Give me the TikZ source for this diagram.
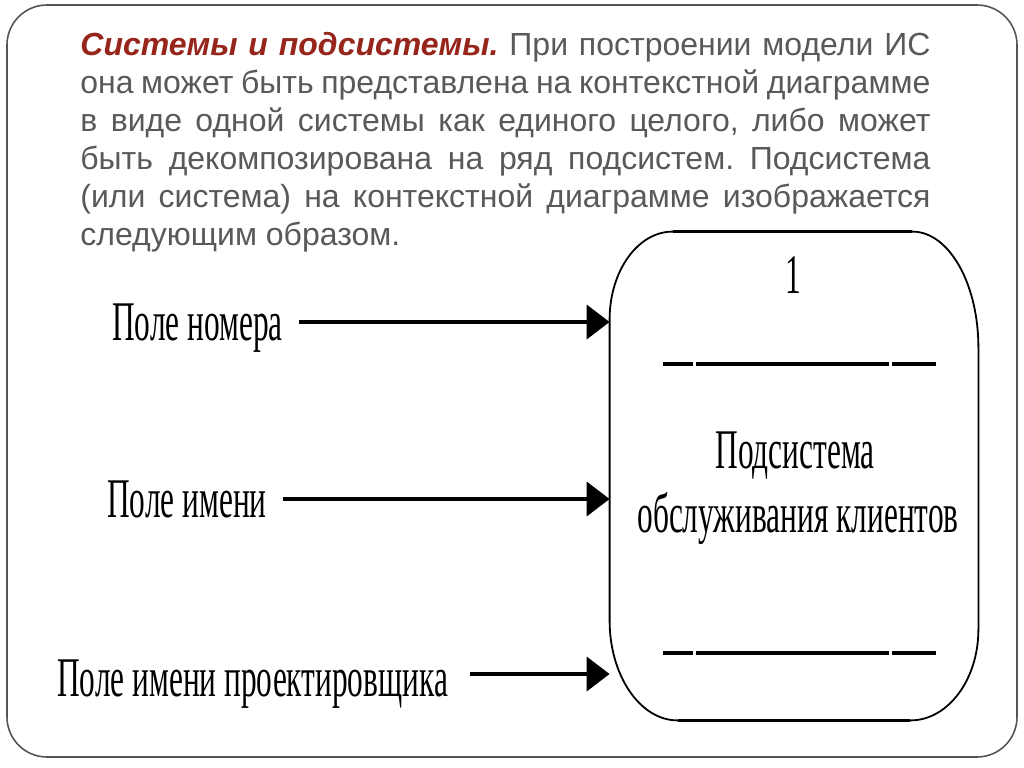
\documentclass[tikz,border=0pt]{standalone}
\usepackage{fontspec}
\setmainfont{Liberation Sans}
\newfontfamily\fieldfont{Liberation Serif}
\usepackage{tikz}
\usetikzlibrary{arrows.meta,positioning}
\definecolor{slidegray}{RGB}{89,89,89}
\definecolor{titlered}{RGB}{150,38,28}
\definecolor{framegray}{RGB}{85,85,85}
\frenchspacing

\begin{document}
\begin{tikzpicture}[x=0.5pt,y=0.5pt,
 lbl/.style={font=\fieldfont\fontsize{28}{30}\selectfont,xscale=0.56,inner sep=0pt,text height=18.5pt,text depth=0pt},
 ar/.style={-{Triangle[length=11.5pt,width=17pt]},line width=2pt},
 rule/.style={line width=1.6pt,dash pattern=on 15pt off 1.5pt on 96.5pt off 1.5pt on 22pt}]
\useasboundingbox (0,0) rectangle (1024,-767);
\draw[framegray,line width=0.8pt,rounded corners=20pt] (7,-5) rectangle (1017,-757);
\node[anchor=north west,text width=425pt,align=justify,inner sep=0pt,font=\fontsize{16}{19}\selectfont,text=slidegray] (txt) at (80,-32)
 {{\color{titlered}\bfseries\itshape Системы и подсистемы.} При построении модели ИС\linebreak
 она может быть представлена на контекстной диаграмме\linebreak
 в виде одной системы как единого целого, либо может\linebreak
 быть декомпозирована на ряд подсистем. Подсистема\linebreak
 (или система) на контекстной диаграмме изображается\linebreak
 следующим образом.};
\node[minimum width=184pt,minimum height=244pt,inner sep=0pt] (sub) at (794,-476) {};
\draw[line width=0.9pt] ([xshift=31.5pt]sub.north west) -- ([xshift=-33pt]sub.north east)
 arc[start angle=90,end angle=0,x radius=66,y radius=116]
 -- ([yshift=45.5pt]sub.south east)
 arc[start angle=0,end angle=-90,x radius=68,y radius=91]
 -- ([xshift=34pt]sub.south west)
 arc[start angle=270,end angle=180,x radius=68,y radius=100]
 -- ([yshift=-44pt]sub.north west)
 arc[start angle=180,end angle=90,x radius=63,y radius=88] -- cycle;
\draw[line width=1.6pt] ([xshift=31.5pt]sub.north west) -- ([xshift=-33pt]sub.north east);
\draw[line width=1.6pt] ([xshift=34pt]sub.south west) -- ([xshift=-34pt]sub.south east);
\node[lbl] (num) at (793,-275) {1};
\draw[rule] (663,-364) -- (937,-364);
\node[lbl] (name1) at (795,-450) {Подсистема};
\node[lbl] (name2) at (798,-514) {обслуживания клиентов};
\draw[rule] (663,-653) -- (937,-653);
\node[lbl,anchor=west] (nom) at (112,-322) {Поле номера};
\node[lbl,anchor=west] (imya) at (107,-499) {Поле имени};
\node[lbl,anchor=west] (proj) at (57,-678) {Поле имени проектировщика};
\draw[ar] ([xshift=8pt]nom.east) -- (nom.east -| sub.west);
\draw[ar] ([xshift=8pt]imya.east) -- (imya.east -| sub.west);
\draw[ar] ([xshift=11pt,yshift=2pt]proj.east) -- ([yshift=2pt]proj.east -| sub.west);
\end{tikzpicture}
\end{document}
